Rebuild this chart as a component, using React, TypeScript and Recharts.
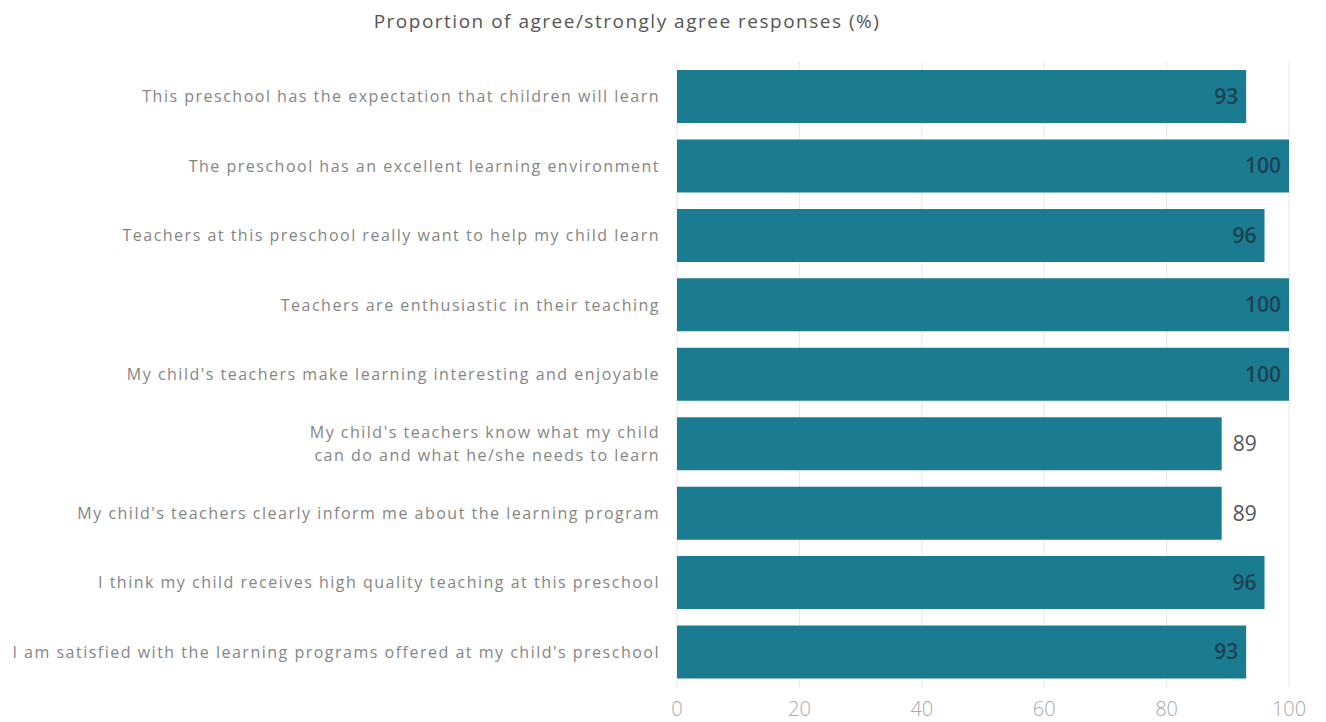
import React from "react";
import { BarChart, Bar, XAxis, YAxis, CartesianGrid, LabelList } from "recharts";

const statements = [
  "This preschool has the expectation that children will learn",
  "The preschool has an excellent learning environment",
  "Teachers at this preschool really want to help my child learn",
  "Teachers are enthusiastic in their teaching",
  "My child's teachers make learning interesting and enjoyable",
  "My child's teachers know what my child\ncan do and what he/she needs to learn",
  "My child's teachers clearly inform me about the learning program",
  "I think my child receives high quality teaching at this preschool",
  "I am satisfied with the learning programs offered at my child's preschool",
];
const agreePct = [93, 100, 96, 100, 100, 89, 89, 96, 93];
const xTicks = [0, 20, 40, 60, 80, 100];

const data = statements.map((s, i) => ({ statement: s, pct: agreePct[i] }));

const FONT = "'Open Sans', 'Noto Sans', sans-serif";
const BAR = "#1a7b91";

function StatementTick(props: any) {
  const { x, y, payload } = props;
  const lines = String(payload.value).split("\n");
  const lh = 23;
  const start = -((lines.length - 1) * lh) / 2;
  return (
    <text
      x={x}
      y={y}
      textAnchor="end"
      fill="#858585"
      fontSize={16}
      fontFamily={FONT}
      style={{ letterSpacing: "1.5px" }}
    >
      {lines.map((l, i) => (
        <tspan key={i} x={x} y={y + start + i * lh} dy="0.35em">
          {l}
        </tspan>
      ))}
    </text>
  );
}

function ValueLabel(props: any) {
  const { x, y, width, height, value } = props;
  const outside = value < 90;
  const cy = y + height / 2;
  if (outside) {
    return (
      <text
        x={x + width + 11}
        y={cy}
        dy="0.35em"
        fill="#555"
        fontSize={21}
        fontFamily={FONT}
        textAnchor="start"
      >
        {value}
      </text>
    );
  }
  return (
    <text
      x={x + width - 8}
      y={cy}
      dy="0.35em"
      fill="#1d4352"
      fontSize={21}
      fontWeight={600}
      fontFamily={FONT}
      textAnchor="end"
    >
      {value}
    </text>
  );
}

export default function App() {
  return (
    <div style={{ position: "fixed", left: 0, top: 0, width: 1326, height: 722, background: "#fff" }}>
      <div
        style={{
          position: "absolute",
          top: 8,
          left: 0,
          width: 1254,
          textAlign: "center",
          fontFamily: FONT,
          fontSize: 19,
          letterSpacing: "1.5px",
          color: "#555",
        }}
      >
        Proportion of agree/strongly agree responses (%)
      </div>
      <BarChart
        width={1326}
        height={722}
        data={data}
        layout="vertical"
        margin={{ top: 62, right: 37, bottom: 0, left: 0 }}
        barCategoryGap={8}
      >
        <CartesianGrid horizontal={false} stroke="#e6e6e6" />
        <XAxis
          type="number"
          domain={[0, 100]}
          ticks={xTicks}
          axisLine={false}
          tickLine={false}
          height={35}
          tickMargin={9}
          tick={{ fill: "#a8a8a8", fontSize: 20, fontFamily: FONT, fontWeight: 300 }}
        />
        <YAxis
          type="category"
          dataKey="statement"
          width={677}
          axisLine={false}
          tickLine={false}
          tickMargin={11}
          tick={<StatementTick />}
          interval={0}
        />
        <Bar dataKey="pct" fill={BAR} isAnimationActive={false}>
          <LabelList dataKey="pct" content={<ValueLabel />} />
        </Bar>
      </BarChart>
    </div>
  );
}
